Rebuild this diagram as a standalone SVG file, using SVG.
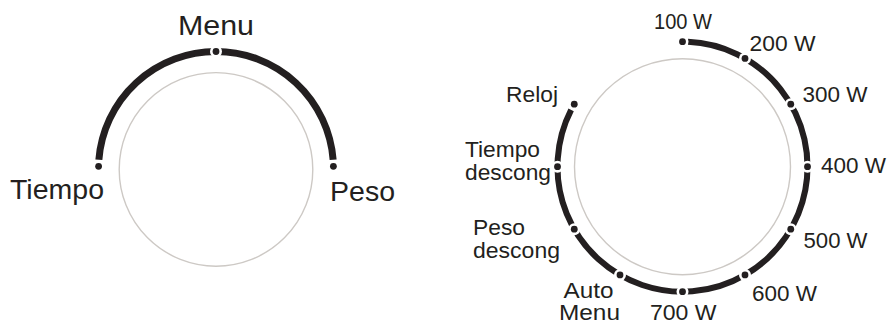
<svg xmlns="http://www.w3.org/2000/svg" width="891" height="323" viewBox="0 0 891 323">
<style>
.lbl{font-family:"Liberation Sans",Arial,sans-serif;fill:#231f20}
.big{font-size:28.5px}
.sm{font-size:22.5px}
.w{font-size:22px}
.ring{fill:none;stroke:#cdc9c5;stroke-width:1.4}
.band{fill:none;stroke:#231f20;stroke-linecap:butt}
</style>
<defs>
<g id="mark"><circle r="6" fill="#ffffff"/><circle r="3.4" fill="#231f20"/></g>
</defs>
<rect width="891" height="323" fill="#fff"/>
<g id="connectors">
<path class="band" stroke-width="7" d="M 98.86 159.78 A 117.5 117.5 0 0 1 333.14 159.78"/>
<path class="band" stroke-width="6" d="M 687.95 41.82 A 125 125 0 1 1 571.12 109.95"/>
</g>
<g id="dial-left">
<circle class="ring" cx="216" cy="169.4" r="96.8"/>
<use href="#mark" x="216" y="51.5"/>
<use href="#mark" x="98.6" y="166.3"/>
<use href="#mark" x="333.4" y="166.3"/>
</g>
<g id="label-menu"><text class="lbl big" x="178" y="35" textLength="76" lengthAdjust="spacingAndGlyphs">Menu</text></g>
<g id="label-tiempo"><text class="lbl big" x="10" y="199" textLength="94" lengthAdjust="spacingAndGlyphs">Tiempo</text></g>
<g id="label-peso"><text class="lbl big" x="330" y="201" textLength="65" lengthAdjust="spacingAndGlyphs">Peso</text></g>
<g id="dial-right">
<circle class="ring" cx="682.5" cy="166.7" r="108"/>
<use href="#mark" x="682.5" y="41.7"/>
<use href="#mark" x="745" y="58.45"/>
<use href="#mark" x="790.75" y="104.2"/>
<use href="#mark" x="807.5" y="166.7"/>
<use href="#mark" x="790.75" y="229.2"/>
<use href="#mark" x="745" y="274.95"/>
<use href="#mark" x="682.5" y="291.7"/>
<use href="#mark" x="620" y="274.95"/>
<use href="#mark" x="574.25" y="229.2"/>
<use href="#mark" x="557.5" y="166.7"/>
<use href="#mark" x="574.25" y="104.2"/>
</g>
<g id="label-100w"><text class="lbl w" x="654" y="29" textLength="58" lengthAdjust="spacingAndGlyphs">100 W</text></g>
<g id="label-200w"><text class="lbl w" x="749.5" y="50.7" textLength="66" lengthAdjust="spacingAndGlyphs">200 W</text></g>
<g id="label-300w"><text class="lbl w" x="802.5" y="102.3" textLength="65" lengthAdjust="spacingAndGlyphs">300 W</text></g>
<g id="label-400w"><text class="lbl w" x="821" y="173.3" textLength="65" lengthAdjust="spacingAndGlyphs">400 W</text></g>
<g id="label-500w"><text class="lbl w" x="803.5" y="248.3" textLength="64" lengthAdjust="spacingAndGlyphs">500 W</text></g>
<g id="label-600w"><text class="lbl w" x="752" y="301" textLength="65" lengthAdjust="spacingAndGlyphs">600 W</text></g>
<g id="label-700w"><text class="lbl w" x="650" y="320" textLength="66.5" lengthAdjust="spacingAndGlyphs">700 W</text></g>
<g id="label-automenu">
<text class="lbl sm" x="563.5" y="298" textLength="50" lengthAdjust="spacingAndGlyphs">Auto</text>
<text class="lbl sm" x="559" y="319.5" textLength="61" lengthAdjust="spacingAndGlyphs">Menu</text>
</g>
<g id="label-pesodescong">
<text class="lbl sm" x="473" y="235" textLength="52" lengthAdjust="spacingAndGlyphs">Peso</text>
<text class="lbl sm" x="473" y="258.3" textLength="87" lengthAdjust="spacingAndGlyphs">descong</text>
</g>
<g id="label-tiempodescong">
<text class="lbl sm" x="465" y="156.7" textLength="75" lengthAdjust="spacingAndGlyphs">Tiempo</text>
<text class="lbl sm" x="465" y="180" textLength="86" lengthAdjust="spacingAndGlyphs">descong</text>
</g>
<g id="label-reloj"><text class="lbl sm" x="506" y="102.3" textLength="52" lengthAdjust="spacingAndGlyphs">Reloj</text></g>
</svg>
